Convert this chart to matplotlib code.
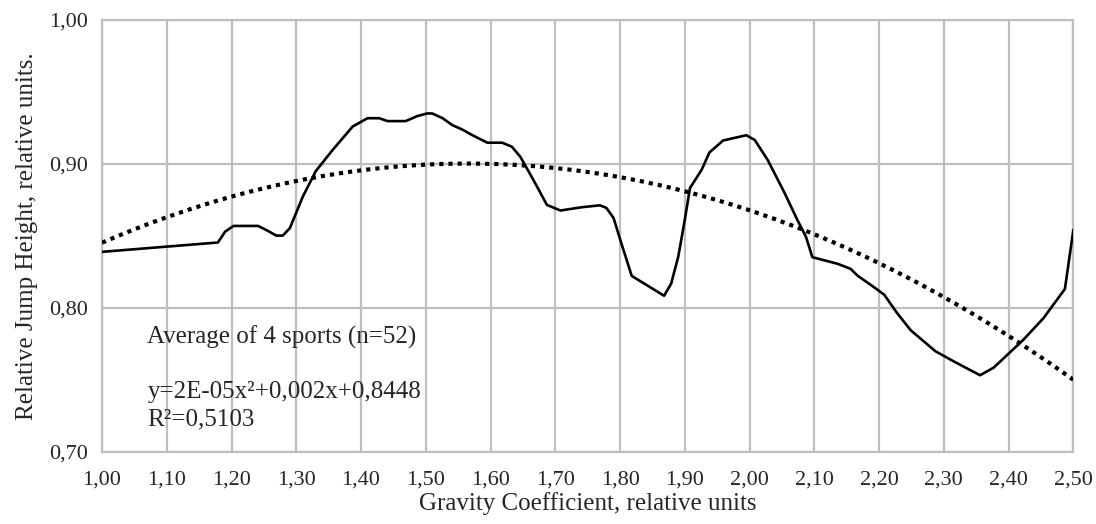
import matplotlib
matplotlib.use("Agg")
import matplotlib.pyplot as plt
import numpy as np
from matplotlib.ticker import FuncFormatter

plt.rcParams['font.family'] = ['Liberation Serif', 'DejaVu Serif']

# average relative jump height
gravity = [1.000, 1.179, 1.190, 1.203, 1.241, 1.256, 1.269, 1.279, 1.290, 1.310,
           1.330, 1.356, 1.387, 1.410, 1.428, 1.441, 1.469, 1.487, 1.502, 1.510,
           1.526, 1.541, 1.556, 1.572, 1.595, 1.618, 1.633, 1.646, 1.659, 1.674,
           1.687, 1.708, 1.741, 1.769, 1.779, 1.790, 1.802, 1.818, 1.868, 1.879,
           1.890, 1.900, 1.908, 1.926, 1.938, 1.959, 1.995, 2.008, 2.028, 2.054,
           2.074, 2.087, 2.097, 2.136, 2.156, 2.167, 2.192, 2.208, 2.228, 2.249,
           2.287, 2.315, 2.356, 2.377, 2.423, 2.454, 2.487, 2.500]
jump = [0.839, 0.8455, 0.853, 0.857, 0.857, 0.8536, 0.8503, 0.8503, 0.8554, 0.8773,
        0.8950, 0.9097, 0.926, 0.9318, 0.9318, 0.9298, 0.9298, 0.9333, 0.9351, 0.9351,
        0.9318, 0.927, 0.924, 0.920, 0.9148, 0.9148, 0.912, 0.905, 0.8947, 0.8825,
        0.8716, 0.8677, 0.870, 0.8713, 0.8695, 0.8625, 0.845, 0.8223, 0.8085, 0.817,
        0.8359, 0.8613, 0.8833, 0.896, 0.908, 0.9163, 0.920, 0.9167, 0.9028, 0.880,
        0.861, 0.8496, 0.8353, 0.8307, 0.8272, 0.8224, 0.8145, 0.8092, 0.7964, 0.7845,
        0.770, 0.763, 0.7533, 0.7586, 0.778, 0.793, 0.8132, 0.854]

# polynomial trendline
trend_x = [1.0, 1.1, 1.2, 1.3, 1.4, 1.5, 1.6, 1.7, 1.8, 1.9, 2.0, 2.1, 2.2, 2.3, 2.4, 2.5]
trend_y = [0.8445, 0.8647, 0.8773, 0.8866, 0.8965, 0.8998, 0.9005, 0.8977, 0.890,
           0.880, 0.867, 0.852, 0.8323, 0.8076, 0.7812, 0.7493]

x_ticks = np.arange(1.0, 2.501, 0.1)
y_ticks = [0.70, 0.80, 0.90, 1.00]

fig = plt.figure(figsize=(10.96, 5.24), dpi=100)
ax = fig.add_axes([0.0931, 0.1374, 0.8862, 0.8244])

grid_col = '#bfbfbf'
coef = np.polyfit(trend_x, trend_y, 2)
xs = np.linspace(1.0, 2.5, 200)
ax.plot(xs, np.polyval(coef, xs), color='black', lw=3.0,
        linestyle=(0, (1.0, 1.2)), dash_capstyle='butt', zorder=3)
ax.plot(gravity, jump, color='black', lw=1.9, zorder=4)

ax.set_xlim(1.0, 2.5)
ax.set_ylim(0.70, 1.00)
ax.set_xticks(x_ticks)
ax.set_yticks(y_ticks)
fmt = FuncFormatter(lambda v, p: f'{v:.2f}'.replace('.', ','))
ax.xaxis.set_major_formatter(fmt)
ax.yaxis.set_major_formatter(fmt)
ax.tick_params(axis='both', length=0, labelsize=16, colors='#262626')
ax.tick_params(axis='x', pad=13)
ax.tick_params(axis='y', pad=10)
ax.grid(True, color=grid_col, lw=1.6)
ax.set_axisbelow(True)
for s in ax.spines.values():
    s.set_color(grid_col)
    s.set_linewidth(1.6)

ax.set_xlabel('Gravity Coefficient, relative units', fontsize=18, labelpad=2,
              color='#262626')
ax.set_ylabel('Relative Jump Height, relative units.', fontsize=18, labelpad=8,
              color='#262626')

ax.text(1.07, 0.780, 'Average of 4 sports (n=52)', fontsize=18, va='center',
        color='#262626')
ax.text(1.07, 0.7415, 'y=2E-05x²+0,002x+0,8448', fontsize=18, va='center',
        color='#262626')
ax.text(1.07, 0.7228, 'R²=0,5103', fontsize=18, va='center', color='#262626')

fig.savefig('out.png', dpi=100)
